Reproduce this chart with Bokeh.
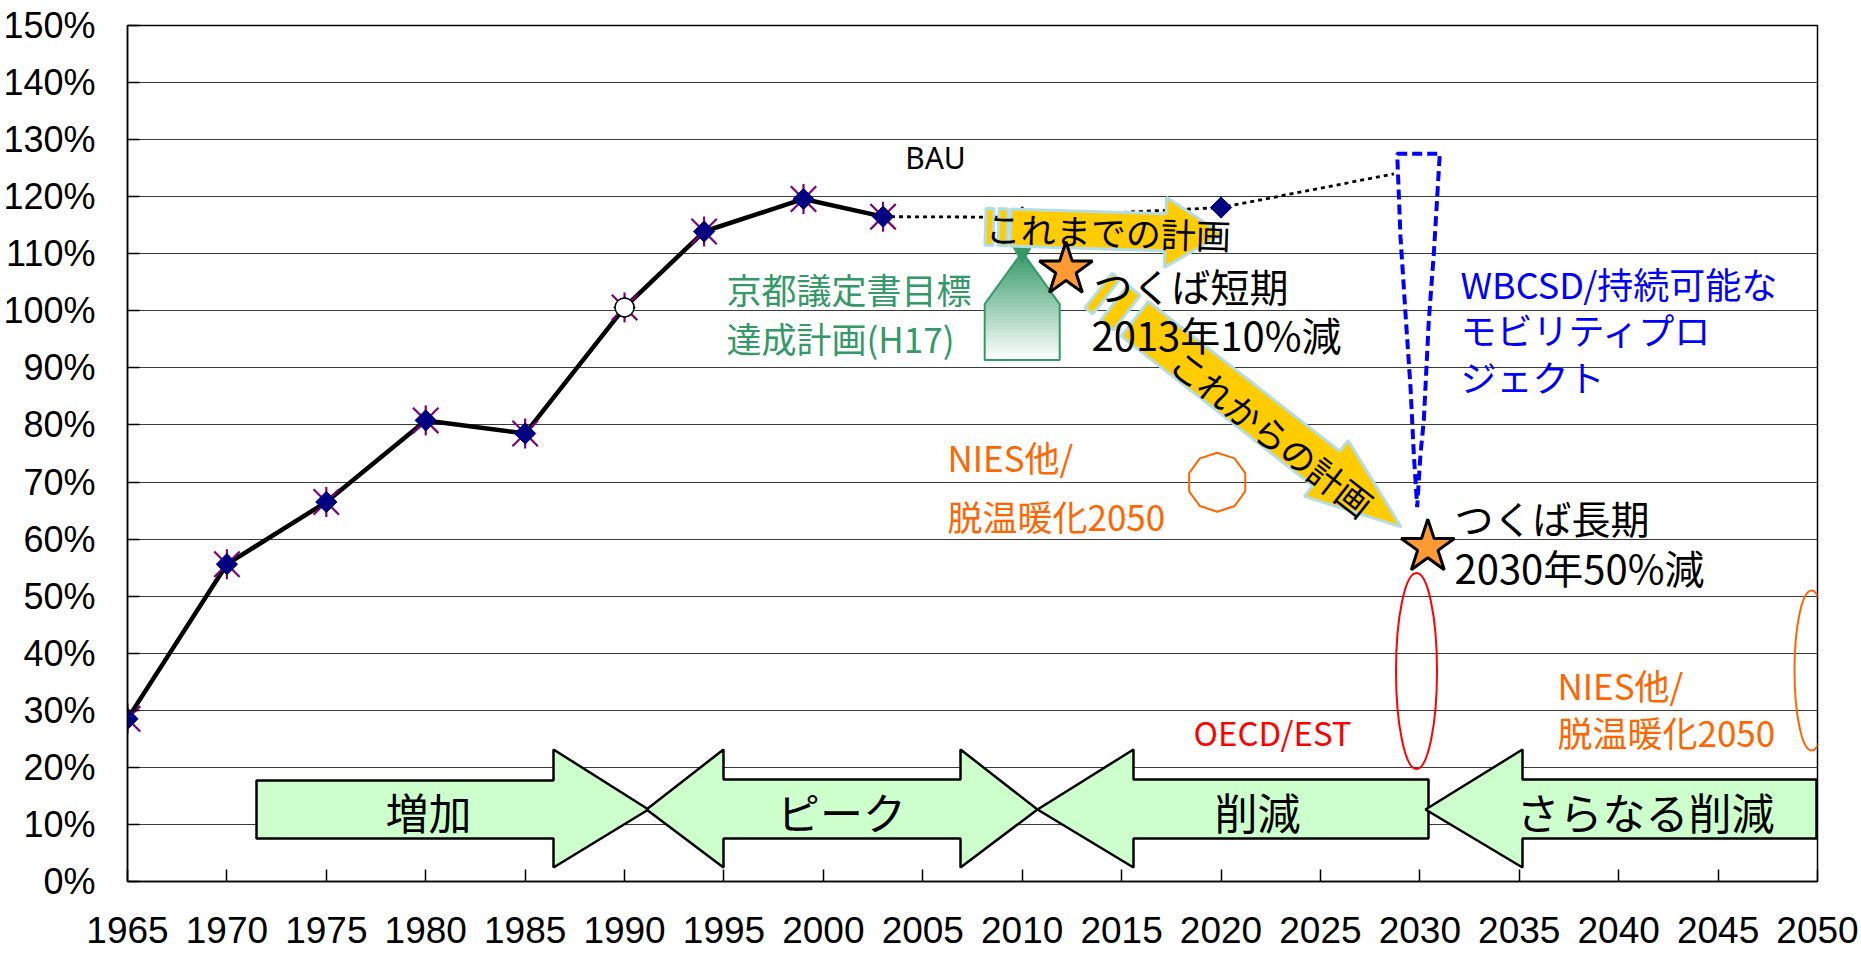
import math
import numpy as np
from bokeh.plotting import figure
from bokeh.models import Range1d, FixedTicker, PrintfTickFormatter
from bokeh.embed import file_html
from bokeh.resources import INLINE
from bokeh.core.properties import value

# ---------------- data ----------------
years = [1965, 1970, 1975, 1980, 1985, 1990, 1994, 1999, 2003]
emission_index = [28.5, 55.6, 66.5, 80.8, 78.5, 100.6, 113.9, 119.6, 116.5]
base_year = [1990]
bau_years = [2003, 2010, 2020, 2028.7]
bau_index = [116.5, 116.4, 118.1, 124.0]
bau_marker_years = [2010, 2020]
bau_marker_index = [116.4, 118.1]
kyoto_year = [2010]
kyoto_index = [111.0]
target_years = [2012.2, 2030.4]
target_index = [107.2, 58.6]
x_ticks = list(range(1965, 2051, 5))
y_ticks = list(range(0, 151, 10))
phase_labels = ["増加", "ピーク", "削減", "さらなる削減"]

# ---------------- layout ----------------
W, H = 1861, 957
FL, FT, FW, FH = 127, 25, 1690, 856
X0, X1, Y0, Y1 = 1965, 2050, 0, 150
SX = FW / (X1 - X0)
SY = FH / (Y1 - Y0)


def dx(px):
    return X0 + (px - FL) / SX


def dy(py):
    return Y0 + (FT + FH - py) / SY


def px_x(x):
    return FL + (x - X0) * SX


def px_y(y):
    return FT + FH - (y - Y0) * SY


def to_data(pts):
    return [dx(a) for a, b in pts], [dy(b) for a, b in pts]


JP = "Noto Sans CJK JP"
AX = "Liberation Sans"

p = figure(width=W, height=H, x_range=Range1d(X0, X1), y_range=Range1d(Y0, Y1),
           output_backend="svg", toolbar_location=None,
           min_border_left=FL, min_border_top=FT,
           min_border_right=W - FL - FW, min_border_bottom=H - FT - FH)
p.background_fill_color = "white"
p.border_fill_color = "white"
p.outline_line_color = "black"
p.outline_line_width = 1.5

# axes
p.yaxis.ticker = FixedTicker(ticks=y_ticks)
p.yaxis.formatter = PrintfTickFormatter(format="%d%%")
p.xaxis.ticker = FixedTicker(ticks=x_ticks)
p.xaxis.formatter = PrintfTickFormatter(format="%d")
for ax in (p.xaxis, p.yaxis):
    ax.major_tick_in = 12
    ax.major_tick_out = 0
    ax.minor_tick_line_color = None
    ax.axis_line_color = "black"
    ax.axis_line_width = 1.5
    ax.major_tick_line_color = "black"
    ax.major_tick_line_width = 1.5
    ax.major_label_text_font = AX
    ax.major_label_text_color = "black"
    ax.major_label_text_font_style = "normal"
p.yaxis.major_label_text_font_size = "36px"
p.xaxis.major_label_text_font_size = "37px"
p.yaxis.major_label_standoff = 32
p.xaxis.major_label_standoff = 35

p.xgrid.grid_line_color = None
p.ygrid.ticker = FixedTicker(ticks=y_ticks)
p.ygrid.grid_line_color = "#3a3a3a"
p.ygrid.grid_line_width = 1

# ---------------- BAU projection ----------------
p.line(bau_years, bau_index, line_color="black", line_width=2.8, line_dash="4 4")
p.scatter(bau_marker_years, bau_marker_index, marker="square", angle=math.pi / 4,
          size=15, fill_color="#000080", line_color="#000080")

# ---------------- historical series ----------------
p.line(years, emission_index, line_color="black", line_width=4.5)
p.scatter(years, emission_index, marker="x", size=36, line_color="#800080", line_width=2.2)
p.scatter(years, emission_index, marker="dash", angle=math.pi / 2, size=30,
          line_color="#800080", line_width=2.2)
p.scatter(years, emission_index, marker="square", angle=math.pi / 4, size=15,
          fill_color="#000080", line_color="#000080")
bv = [emission_index[years.index(y)] for y in base_year]
p.scatter(base_year, bv, marker="circle", size=19, fill_color="white",
          line_color="black", line_width=1.5)

# ---------------- Kyoto target house (gradient) ----------------
kx, ky = px_x(kyoto_year[0]), px_y(kyoto_index[0])
ay, sy, by, hw = ky + 4, ky + 56, ky + 112, 37.5
top_rgb, bot_rgb = (51, 153, 102), (255, 255, 255)


def half_w(y):
    return hw * min(1.0, max(0.0, (y - ay) / (sy - ay)))


strip_xs, strip_ys, strip_cols = [], [], []
for seq in (np.linspace(ay, sy, 14), np.linspace(sy, by, 18)):
    for y0, y1 in zip(seq[:-1], seq[1:]):
        pts = [(kx - half_w(y0), y0), (kx + half_w(y0), y0), (kx + half_w(y1), y1), (kx - half_w(y1), y1)]
        xs, ys = to_data(pts)
        strip_xs.append(xs)
        strip_ys.append(ys)
        t = ((y0 + y1) / 2 - ay) / (by - ay)
        c = tuple(int(round(a + (b - a) * t)) for a, b in zip(top_rgb, bot_rgb))
        strip_cols.append("#%02x%02x%02x" % c)
p.patches(strip_xs, strip_ys, fill_color=strip_cols, line_color=strip_cols, line_width=0.8)
hx, hy = to_data([(kx, ay), (kx + hw, sy), (kx + hw, by), (kx - hw, by), (kx - hw, sy)])
p.patch(hx, hy, fill_color=None, line_color="#339966", line_width=2)
p.scatter(kyoto_year, kyoto_index, marker="inverted_triangle", size=26,
          fill_color="#339966", line_color="#339966")


# ---------------- striped block arrows ----------------
def striped_arrow(ox, oy, ang_deg, stripes, body0, headbase, L, bw, hwid):
    a = math.radians(ang_deg)
    c, s = math.cos(a), math.sin(a)

    def tr(pts):
        return [(ox + u * c - v * s, oy + u * s + v * c) for u, v in pts]

    polys = [tr([(u0, -bw / 2), (u1, -bw / 2), (u1, bw / 2), (u0, bw / 2)]) for u0, u1 in stripes]
    polys.append(tr([(body0, -bw / 2), (headbase, -bw / 2), (headbase, -hwid / 2), (L, 0),
                     (headbase, hwid / 2), (headbase, bw / 2), (body0, bw / 2)]))
    for poly in polys:
        xs, ys = to_data(poly)
        p.patch(xs, ys, fill_color="#FFCC00", line_color="#B4DCE4", line_width=3)


striped_arrow(985, 226.2, 1.8, [(0, 8), (13, 22)], 25, 180, 237, 37, 70)
striped_arrow(1098.0, 290.0, 38, [(0, 10), (20, 36)], 46, 289, 384, 44, 71)

# ---------------- targets (stars) ----------------
p.scatter(target_years, target_index, marker="star", size=56, fill_color="#FF9933",
          line_color="black", line_width=3)

# ---------------- outlined shapes ----------------
# NIES decagon
cxp, cyp, r = 1216.7, 481.7, 29.5
dec = [(cxp + r * math.cos(math.radians(18 + 36 * k)), cyp + r * math.sin(math.radians(18 + 36 * k))) for k in range(10)]
xs, ys = to_data(dec)
p.patch(xs, ys, fill_color=None, line_color="#FF6600", line_width=2)

# WBCSD dashed callout
wb = [(1396.7, 153.3), (1439.3, 153.3), (1437.3, 186.7), (1433.3, 253.3), (1428.3, 320),
      (1423.3, 420), (1420, 453.3), (1418.3, 480), (1416.7, 506.7), (1413.3, 453.3),
      (1410, 386.7), (1405, 313.3), (1403.3, 286.7), (1400, 236.7)]
xs, ys = to_data(wb)
p.patch(xs, ys, fill_color=None, line_color="#0000FF", line_width=4, line_dash="10 5")

# OECD oval and NIES 2050 oval
p.ellipse(x=[dx(1416)], y=[dy(670.5)], width=41 / SX, height=196 / SY,
          fill_color=None, line_color="#FF0000", line_width=2)
p.ellipse(x=[dx(1811)], y=[dy(670)], width=34 / SX, height=160 / SY,
          fill_color=None, line_color="#FF6600", line_width=2)

# ---------------- phase arrows ----------------
phase_polys = [
    [(256, 780), (553, 780), (553, 749), (648, 809), (553, 867), (553, 838), (256, 838)],
    [(646, 809), (723, 749), (723, 779), (960, 779), (960, 749), (1037, 809), (960, 867),
     (960, 838), (723, 838), (723, 867)],
    [(1037, 809), (1133, 749), (1133, 779), (1428, 779), (1428, 838), (1133, 838), (1133, 867)],
    [(1425, 809), (1522, 749), (1522, 779), (1816, 779), (1816, 838), (1522, 838), (1522, 867)],
]
for poly in phase_polys:
    xs, ys = to_data(poly)
    p.patch(xs, ys, fill_color="#CCFFCC", line_color="black", line_width=2.5)


# ---------------- texts ----------------
def txt(s, px, py, size, color="black", align="left", angle_deg=0.0, font=JP):
    p.text(x=[dx(px)], y=[dy(py)], text=[s], text_font=value(font),
           text_font_size=f"{size}px", text_color=color, text_align=align,
           text_baseline="middle", angle=-math.radians(angle_deg))


txt("BAU", 935, 157, 30, align="center", font="Noto Sans")
txt("京都議定書目標", 726, 288, 35, color="#339966")
txt("達成計画(H17)", 726, 337, 35, color="#339966")
txt("これまでの計画", 1108, 230, 35, align="center", angle_deg=1.8)
txt("つくば短期", 1093, 284, 39)
txt("2013年10%減", 1091, 333, 40)
txt("これからの計画", 1272, 432, 35, align="center", angle_deg=38)
txt("NIES他/", 947, 456, 35, color="#FF6600")
txt("脱温暖化2050", 947, 515, 35, color="#FF6600")
txt("WBCSD/持続可能な", 1460, 282, 36, color="#0000FF")
txt("モビリティプロ", 1460, 328, 36, color="#0000FF")
txt("ジェクト", 1460, 375, 36, color="#0000FF")
txt("つくば長期", 1454, 516, 39)
txt("2030年50%減", 1454, 566, 40)
txt("OECD/EST", 1193, 731, 33, color="#FF0000")
txt("NIES他/", 1557, 684, 35, color="#FF6600")
txt("脱温暖化2050", 1557, 731, 35, color="#FF6600")
for lab, cx in zip(phase_labels, [428, 841, 1257, 1645]):
    txt(lab, cx, 810, 43, align="center")

open("out.html", "w").write(file_html(p, INLINE))
